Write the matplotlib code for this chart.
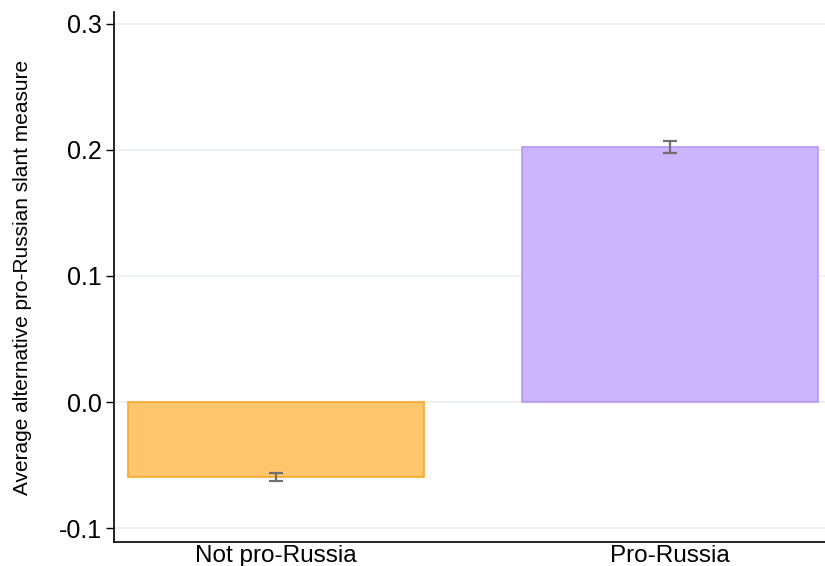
import matplotlib
matplotlib.use("Agg")
import matplotlib.pyplot as plt

# Group means of the alternative slant measure and their error half-widths
groups = ["Not pro-Russia", "Pro-Russia"]
means = [-0.0595, 0.2025]
errors = [0.0031, 0.0046]
yticks = [-0.1, 0.0, 0.1, 0.2, 0.3]
yticklabels = ["-0.1", "0.0", "0.1", "0.2", "0.3"]

fill_colors = ["#FDC66C", "#CCB5FC"]
edge_colors = ["#F7A92A", "#B497F6"]

plt.rcParams["font.family"] = ["Liberation Sans", "DejaVu Sans"]

fig = plt.figure(figsize=(8.25, 5.66), dpi=100)
ax = fig.add_axes([114 / 825, 24 / 566, 1 - 114 / 825, (542 - 12) / 566])

# bar centres and width in the axis's own x units
centres = [162, 556]
width = 296

for gl in yticks:
    ax.axhline(gl, color="#EEF2F5", lw=1.4, zorder=0)

ax.bar(centres, means, width=width, color=fill_colors, edgecolor=edge_colors,
       linewidth=1.2, zorder=2)
ax.errorbar(centres, means, yerr=errors, fmt="none", ecolor="#707070",
            elinewidth=1.6, capsize=5, capthick=1.6, zorder=3)

ax.set_xlim(0, 711)
ax.set_ylim(-0.1111, 0.3095)
ax.set_yticks(yticks)
ax.set_yticklabels(yticklabels)
ax.set_xticks(centres)
ax.set_xticklabels(groups)

ax.tick_params(axis="y", length=6, width=1, labelsize=18, pad=3)
ax.tick_params(axis="x", length=0, labelsize=17.5, pad=2)

for side in ("top", "right"):
    ax.spines[side].set_visible(False)
for side in ("left", "bottom"):
    ax.spines[side].set_linewidth(1.2)

ax.set_ylabel("Average alternative pro-Russian slant measure", fontsize=15)
ax.yaxis.set_label_coords(-114 / 711 + 32 / 711, 0.5)

fig.savefig("out.png", dpi=100)
